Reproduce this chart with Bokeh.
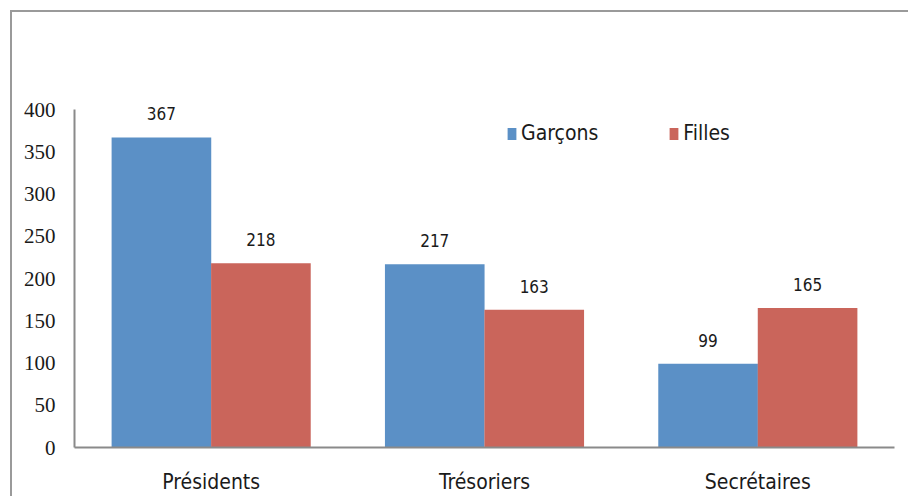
from bokeh.plotting import figure
from bokeh.models import (ColumnDataSource, FactorRange, Range1d, FixedTicker, LabelSet,
                          Legend, LegendItem)
from bokeh.core.properties import value
from bokeh.transform import dodge
from bokeh.embed import file_html
from bokeh.resources import INLINE

categories = ["Présidents", "Trésoriers", "Secrétaires"]
garcons = [367, 217, 99]
filles = [218, 163, 165]
series_names = ["Garçons", "Filles"]
y_ticks = [0, 50, 100, 150, 200, 250, 300, 350, 400]

BLUE = "#5B90C6"
RED = "#CA655B"
AXIS = "#8a8a8a"
SANS = "Liberation Sans Narrow, DejaVu Sans Condensed, sans-serif"
SERIF = "Liberation Serif, serif"

src = ColumnDataSource(dict(
    cat=categories,
    g=garcons,
    f=filles,
    gl=[str(v) for v in garcons],
    fl=[str(v) for v in filles],
))

p = figure(
    width=912, height=496,
    x_range=FactorRange(factors=categories, range_padding=0),
    y_range=Range1d(0, 458),
    output_backend="svg", toolbar_location=None,
    min_border_left=74, min_border_right=18, min_border_top=60, min_border_bottom=49,
)
# outer chart frame: only its top and left edges are visible in the picture
p.styles = {"box-shadow": "inset 10px 10px 0 0 #ffffff, inset 12px 12px 0 0 #9a9a9a"}
p.outline_line_color = None
p.background_fill_color = "white"
p.border_fill_alpha = 0
p.xgrid.visible = False
p.ygrid.visible = False

bw = 0.3645
off = 0.182
rg = p.vbar(x=dodge("cat", -off, range=p.x_range), top="g", width=bw, source=src,
            fill_color=BLUE, line_color=None)
rf = p.vbar(x=dodge("cat", off, range=p.x_range), top="f", width=bw, source=src,
            fill_color=RED, line_color=None)

for col, ycol, o in (("gl", "g", -off), ("fl", "f", off)):
    lab = LabelSet(x=dodge("cat", o, range=p.x_range), y=ycol, text=col, source=src,
                   text_align="center", text_baseline="alphabetic", y_offset=17,
                   text_font=value(SANS), text_font_size=value("17px"),
                   text_color="#1a1a1a")
    p.add_layout(lab)

# axes
p.yaxis.ticker = FixedTicker(ticks=y_ticks)
p.yaxis.bounds = (0, 400)
p.yaxis.major_tick_line_color = None
p.yaxis.minor_tick_line_color = None
p.yaxis.axis_line_color = AXIS
p.yaxis.axis_line_width = 2
p.yaxis.major_label_text_font = SERIF
p.yaxis.major_label_text_font_size = "21px"
p.yaxis.major_label_text_color = "#1a1a1a"
p.yaxis.major_label_standoff = 13

p.xaxis.major_tick_line_color = None
p.xaxis.minor_tick_line_color = None
p.xaxis.axis_line_color = AXIS
p.xaxis.axis_line_width = 2
p.xaxis.major_label_text_font = SANS
p.xaxis.major_label_text_font_size = "21px"
p.xaxis.major_label_text_color = "#1a1a1a"
p.xaxis.major_label_standoff = 16

legend = Legend(items=[LegendItem(label=series_names[0], renderers=[rg]),
                       LegendItem(label=series_names[1], renderers=[rf])],
                orientation="horizontal", location=(432, 302),
                glyph_width=11, glyph_height=15, label_standoff=4, spacing=70,
                padding=0, margin=0, border_line_color=None, background_fill_alpha=0,
                label_text_font=SANS, label_text_font_size="21px", label_text_color="#1a1a1a")
p.add_layout(legend, "center")

html = file_html(p, INLINE)
open("out.html", "w").write(html)
